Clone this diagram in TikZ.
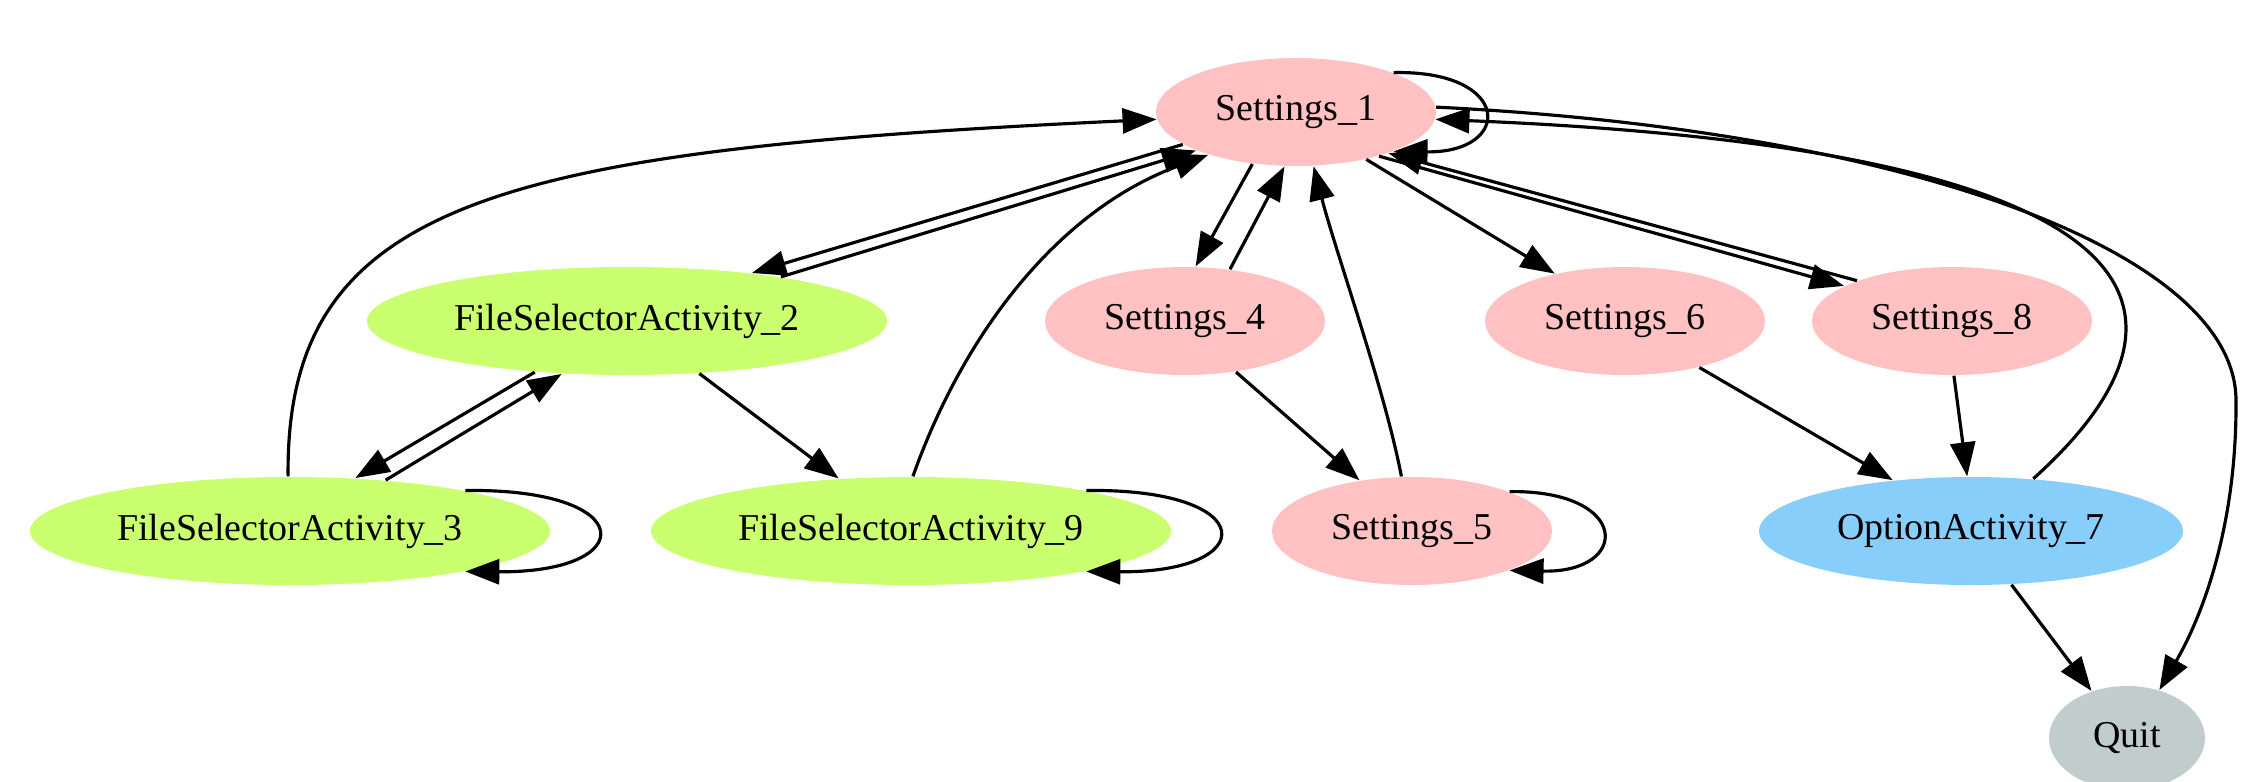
\documentclass[tikz,border=0pt]{standalone}
\usepackage{fontspec}
\setmainfont{Liberation Serif}
\usetikzlibrary{shapes.geometric,arrows.meta}
\definecolor{setpink}{HTML}{FFC1C1}
\definecolor{filegreen}{HTML}{CAFF70}
\definecolor{optblue}{HTML}{87CEFA}
\definecolor{quitgrey}{HTML}{C1CDCD}

\begin{document}
\begin{tikzpicture}[
  x=0.1mm, y=-0.1mm,
  font=\fontsize{10.8}{13}\selectfont,
  screen/.style={ellipse, inner sep=0pt, minimum width=2.8cm, minimum height=1.08cm},
  settings/.style={screen, fill=setpink},
  filesel/.style={screen, fill=filegreen, minimum width=5.2cm},
  arr/.style={-{Triangle[length=3.4mm, width=2.5mm]}, line width=0.9pt},
]
\useasboundingbox (0,0) rectangle (2248,781);
\node[settings] (s1) at (1296,112) {Settings\_1};
\node[filesel] (fsa2) at (627,321) {FileSelectorActivity\_2};
\node[settings] (s4) at (1185,321) {Settings\_4};
\node[settings] (s6) at (1625,321) {Settings\_6};
\node[settings] (s8) at (1952,321) {Settings\_8};
\node[filesel] (fsa3) at (290,531) {FileSelectorActivity\_3};
\node[filesel] (fsa9) at (911,531) {FileSelectorActivity\_9};
\node[settings] (s5) at (1412,531) {Settings\_5};
\node[screen, fill=optblue, minimum width=4.24cm] (oa7) at (1971,531) {OptionActivity\_7};
\node[screen, fill=quitgrey, minimum width=1.56cm, minimum height=1.04cm] (quit) at (2127,738) {Quit};
% Settings_1 and its neighbours
\draw[arr] (s1.22) .. controls (1513,70) and (1513,153) .. (s1.-22);
\draw[arr] (fsa3.92) .. controls (285,200) and (500,150) .. (s1.183);
\draw[arr] (s1.196) -- (fsa2.21);
\draw[arr] (fsa2.16) -- (s1.201);
\draw[arr] (fsa9.88) .. controls (965,330) and (1060,210) .. (s1.206);
\draw[arr] (s1.230) -- (s4.79);
\draw[arr] (s4.49) -- (s1.258);
\draw[arr] (s5.101) .. controls (1385,390) and (1335,250) .. (s1.-72);
\draw[arr] (s1.-34) -- (s6.146);
\draw[arr] (s1.-28) -- (s8.162);
\draw[arr] (s8.157) -- (s1.-24);
\draw[arr] (oa7.40) .. controls (2210,320) and (2190,150) .. (s1.-3);
\draw[arr] (s1.2) .. controls (1900,130) and (2235,250) .. (2236,400)
  .. controls (2237,530) and (2200,620) .. (quit.56);
% file selectors
\draw[arr] (fsa2.209) -- (fsa3.39);
\draw[arr] (fsa3.28) -- (fsa2.219);
\draw[arr] (fsa2.-36) -- (fsa9.144);
\draw[arr] (fsa3.13) .. controls (640,488) and (640,573) .. (fsa3.-13);
\draw[arr] (fsa9.13) .. controls (1261,488) and (1261,573) .. (fsa9.-13);
% lower settings and options
\draw[arr] (s4.-45) -- (s5.136);
\draw[arr] (s5.22) .. controls (1631,490) and (1631,573) .. (s5.-22);
\draw[arr] (s6.-32) -- (oa7.147);
\draw[arr] (s8.-88) -- (oa7.94);
\draw[arr] (oa7.-53) -- (quit.127);
\end{tikzpicture}
\end{document}
